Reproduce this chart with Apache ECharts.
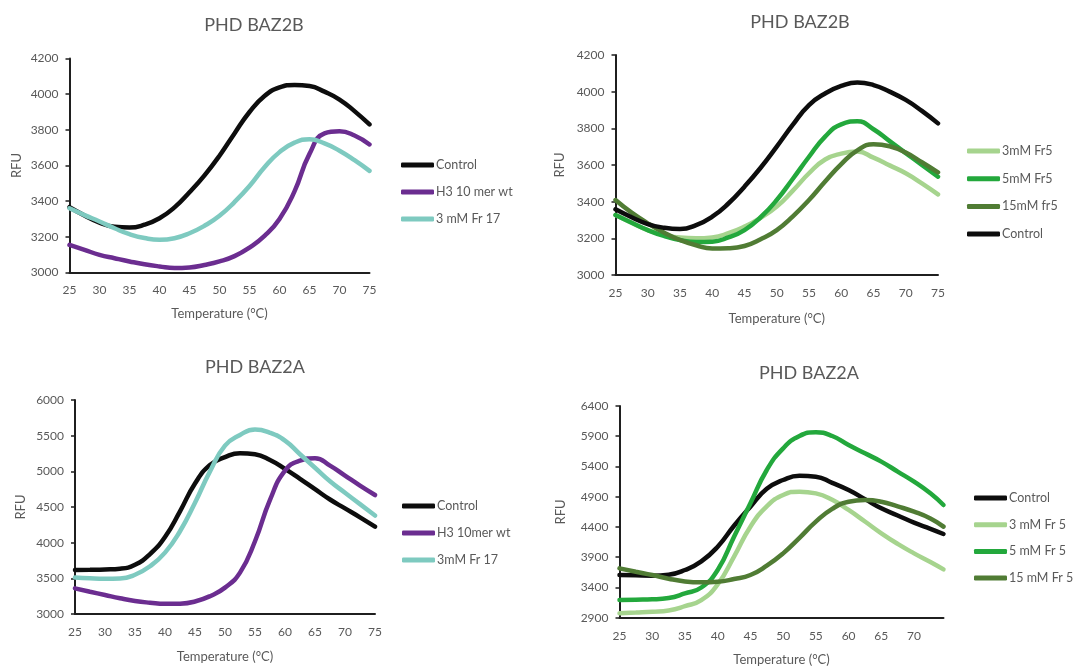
<!DOCTYPE html>
<html>
<head>
<meta charset="utf-8">
<script src="https://cdn.jsdelivr.net/npm/echarts@6/dist/echarts.min.js"></script>
<style>
  html, body { margin: 0; padding: 0; background: #fff; }
  #main { width: 1073px; height: 669px; }
</style>
</head>
<body>
<div id="main"></div>
<script>
// temperatures (°C)
var tempsFull = [25, 27.5, 30, 32.5, 35, 37.5, 40, 42.5, 45, 47.5, 50, 52.5, 55, 57.5, 60, 62.5, 65, 67.5, 70, 72.5, 75]
var tempsShort = [25, 27.5, 30, 32.5, 35, 37.5, 40, 42.5, 45, 47.5, 50, 52.5, 55, 57.5, 60, 62.5, 65, 67.5, 70, 72.5, 74.5]

// top left: PHD BAZ2B
var p1Control = [3366, 3320, 3280, 3256, 3252, 3268, 3304, 3365, 3450, 3545, 3655, 3780, 3900, 3990, 4038, 4052, 4046, 4014, 3970, 3905, 3830]
var p1H3 = [3155, 3127, 3099, 3080, 3062, 3046, 3034, 3025, 3028, 3042, 3062, 3092, 3140, 3205, 3300, 3455, 3665, 3780, 3792, 3768, 3718]
var p1Fr17 = [3360, 3322, 3286, 3248, 3215, 3193, 3183, 3192, 3220, 3262, 3318, 3395, 3485, 3590, 3675, 3728, 3747, 3724, 3683, 3630, 3570]

// top right: PHD BAZ2B
var p2Fr5_3 = [3327, 3285, 3245, 3220, 3204, 3200, 3205, 3228, 3264, 3312, 3373, 3460, 3555, 3630, 3662, 3673, 3640, 3598, 3555, 3500, 3440]
var p2Fr5_5 = [3327, 3285, 3245, 3213, 3191, 3180, 3182, 3205, 3245, 3315, 3409, 3525, 3645, 3755, 3822, 3838, 3795, 3730, 3665, 3600, 3536]
var p2Fr5_15 = [3409, 3340, 3282, 3232, 3191, 3162, 3145, 3146, 3158, 3195, 3245, 3320, 3409, 3510, 3605, 3680, 3713, 3702, 3668, 3615, 3560]
var p2Control = [3358, 3315, 3278, 3258, 3251, 3272, 3318, 3390, 3482, 3585, 3700, 3820, 3927, 3990, 4031, 4050, 4036, 4000, 3955, 3895, 3827]

// bottom left: PHD BAZ2A
var p3Control = [3617, 3620, 3625, 3635, 3690, 3840, 4080, 4440, 4830, 5090, 5200, 5255, 5240, 5160, 5035, 4895, 4750, 4605, 4480, 4355, 4224]
var p3H3 = [3360, 3312, 3266, 3220, 3182, 3158, 3142, 3145, 3175, 3250, 3370, 3580, 4020, 4600, 5010, 5150, 5185, 5080, 4940, 4800, 4668]
var p3Fr17 = [3510, 3500, 3495, 3498, 3550, 3670, 3860, 4160, 4560, 5000, 5360, 5510, 5585, 5540, 5430, 5240, 5050, 4860, 4700, 4540, 4380]

// bottom right: PHD BAZ2A
var p4Control = [3606, 3600, 3595, 3610, 3688, 3830, 4074, 4420, 4736, 5030, 5177, 5245, 5232, 5130, 5011, 4860, 4708, 4590, 4471, 4370, 4284]
var p4Fr5_3 = [2972, 2985, 2999, 3020, 3090, 3190, 3450, 3910, 4405, 4740, 4929, 4984, 4956, 4850, 4681, 4490, 4295, 4120, 3964, 3820, 3699]
var p4Fr5_5 = [3192, 3198, 3203, 3225, 3302, 3400, 3688, 4240, 4791, 5342, 5700, 5904, 5965, 5904, 5756, 5618, 5480, 5315, 5149, 4956, 4763]
var p4Fr5_15 = [3716, 3660, 3606, 3545, 3500, 3485, 3495, 3540, 3606, 3760, 3964, 4220, 4488, 4700, 4818, 4846, 4818, 4740, 4653, 4540, 4405]

var textColor = '#595959'
var fontName = 'Lato'

function pairs(xs, ys) {
  var out = []
  for (var i = 0; i < xs.length; i++) out.push([xs[i], ys[i]])
  return out
}

function line(name, xs, ys, color, idx) {
  return {
    name: name,
    type: 'line',
    xAxisIndex: idx,
    yAxisIndex: idx,
    data: pairs(xs, ys),
    smooth: 0.5,
    symbol: 'none',
    color: color,
    lineStyle: { width: 4.5, color: color, cap: 'round' }
  }
}

function xAxisOf(idx, max, gap) {
  return {
    type: 'value',
    gridIndex: idx,
    min: 25,
    max: max,
    interval: 5,
    name: 'Temperature (°C)',
    nameLocation: 'middle',
    nameGap: gap,
    nameTextStyle: { color: textColor, fontFamily: fontName, fontSize: 13 },
    axisLine: { lineStyle: { color: '#1f1f1f', width: 2 } },
    axisTick: { show: false },
    splitLine: { show: false },
    axisLabel: {
      color: textColor, fontFamily: fontName, fontSize: 12, margin: 12,
      formatter: function (v) { return v % 5 === 0 ? String(v) : '' }
    }
  }
}

function yAxisOf(idx, min, max, step, gap) {
  return {
    type: 'value',
    gridIndex: idx,
    min: min,
    max: max,
    interval: step,
    name: 'RFU',
    nameLocation: 'middle',
    nameGap: gap,
    nameTextStyle: { color: textColor, fontFamily: fontName, fontSize: 13 },
    axisLine: { show: true, lineStyle: { color: '#1f1f1f', width: 2 } },
    axisTick: { show: true, length: 4, lineStyle: { color: '#1f1f1f', width: 1.5 } },
    splitLine: { show: false },
    axisLabel: {
      color: textColor, fontFamily: fontName, fontSize: 12, margin: 11,
      formatter: function (v) { return String(v) }
    }
  }
}

function titleOf(text, x, y) {
  return {
    text: text,
    left: x,
    top: y,
    padding: 0,
    textAlign: 'center',
    textVerticalAlign: 'middle',
    textStyle: { color: textColor, fontFamily: fontName, fontSize: 18, fontWeight: 'normal' }
  }
}

function legendOf(names, x, y, gap) {
  return {
    data: names,
    orient: 'vertical',
    left: x,
    top: y,
    padding: 0,
    itemGap: gap,
    itemWidth: 33,
    itemHeight: 5,
    icon: 'roundRect',
    selectedMode: false,
    textStyle: { color: textColor, fontFamily: fontName, fontSize: 12.5, lineHeight: 14, padding: [0, 0, 0, -3] }
  }
}

var myChart = echarts.init(document.getElementById('main'))

var option = {
  backgroundColor: '#fff',
  animation: false,
  title: [
    titleOf('PHD BAZ2B', 254, 25),
    titleOf('PHD BAZ2B', 800, 22),
    titleOf('PHD BAZ2A', 255, 367),
    titleOf('PHD BAZ2A', 809, 373)
  ],
  legend: [
    legendOf(['Control', 'H3 10 mer wt', '3 mM Fr 17'], 401, 158, 13),
    legendOf(['3mM Fr5', '5mM Fr5', '15mM fr5', 'Control'], 967, 144, 13.7),
    legendOf(['Control', 'H3 10mer wt', '3mM Fr 17'], 402, 499, 13),
    legendOf(['Control', '3 mM Fr 5', '5 mM Fr 5', '15 mM Fr 5'], 974, 491, 12.7)
  ],
  grid: [
    { left: 69.5, top: 58.5, width: 300, height: 214 },
    { left: 615.5, top: 55, width: 322.5, height: 220 },
    { left: 75, top: 400, width: 300, height: 214 },
    { left: 619.5, top: 406, width: 324, height: 211.7 }
  ],
  xAxis: [
    xAxisOf(0, 75, 35),
    xAxisOf(1, 75, 37),
    xAxisOf(2, 75, 36),
    xAxisOf(3, 74.5, 36)
  ],
  yAxis: [
    yAxisOf(0, 3000, 4200, 200, 46),
    yAxisOf(1, 3000, 4200, 200, 49),
    yAxisOf(2, 3000, 6000, 500, 48),
    yAxisOf(3, 2900, 6400, 500, 52)
  ],
  series: [
    line('Control', tempsFull, p1Control, '#0d0d0d', 0),
    line('H3 10 mer wt', tempsFull, p1H3, '#6b2d90', 0),
    line('3 mM Fr 17', tempsFull, p1Fr17, '#7ecac0', 0),

    line('3mM Fr5', tempsFull, p2Fr5_3, '#a6d48e', 1),
    line('5mM Fr5', tempsFull, p2Fr5_5, '#23a83c', 1),
    line('15mM fr5', tempsFull, p2Fr5_15, '#507c34', 1),
    line('Control', tempsFull, p2Control, '#0d0d0d', 1),

    line('Control', tempsFull, p3Control, '#0d0d0d', 2),
    line('H3 10mer wt', tempsFull, p3H3, '#6b2d90', 2),
    line('3mM Fr 17', tempsFull, p3Fr17, '#7ecac0', 2),

    line('Control', tempsShort, p4Control, '#0d0d0d', 3),
    line('3 mM Fr 5', tempsShort, p4Fr5_3, '#a6d48e', 3),
    line('5 mM Fr 5', tempsShort, p4Fr5_5, '#23a83c', 3),
    line('15 mM Fr 5', tempsShort, p4Fr5_15, '#507c34', 3)
  ]
}

myChart.setOption(option)
</script>
</body>
</html>
